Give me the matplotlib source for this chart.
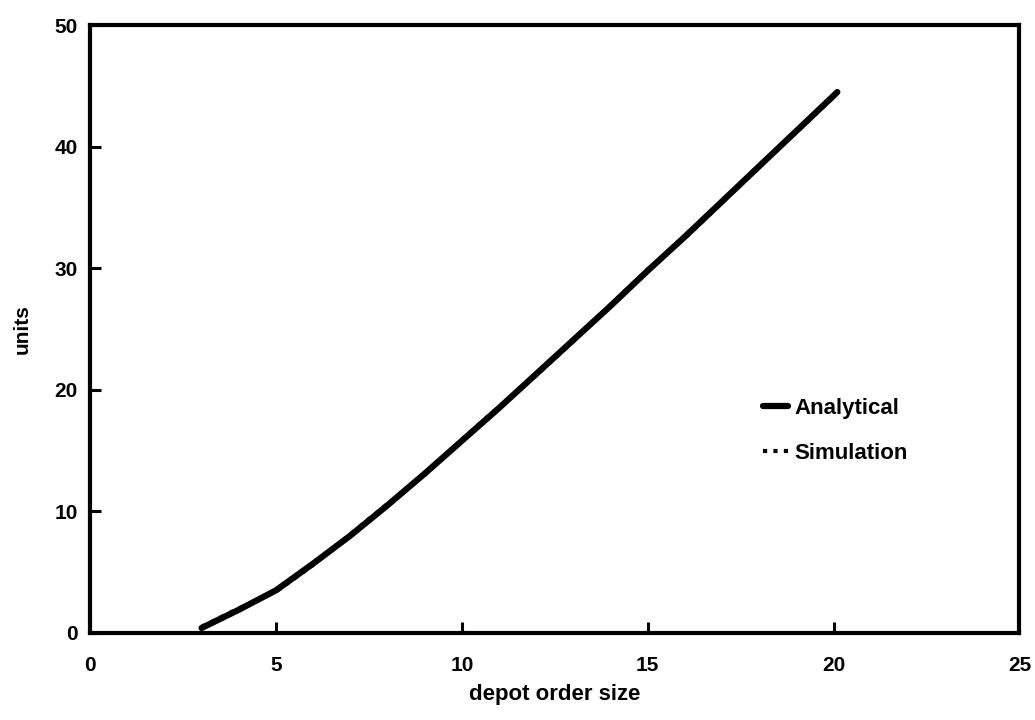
import matplotlib.pyplot as plt

# depot order size vs units
order_size = [3, 4, 5, 6, 7, 8, 9, 10, 11, 12, 13, 14, 15, 16, 17, 18, 19, 20, 20.1]
analytical = [0.4, 1.9, 3.5, 5.7, 8.0, 10.5, 13.1, 15.8, 18.5, 21.3, 24.1, 26.9,
              29.8, 32.6, 35.5, 38.4, 41.3, 44.2, 44.5]
simulation = [0.5, 2.0, 3.4, 5.6, 8.1, 10.6, 13.0, 15.9, 18.6, 21.2, 24.0, 27.0,
              29.9, 32.5, 35.4, 38.5, 41.2, 44.1, 44.4]

xticks = [0, 5, 10, 15, 20, 25]
yticks = [0, 10, 20, 30, 40, 50]

plt.rcParams['font.family'] = ['Liberation Sans', 'DejaVu Sans']
plt.rcParams['font.weight'] = 'bold'

fig, ax = plt.subplots(figsize=(10.35, 7.2), dpi=100)
plt.subplots_adjust(left=0.087, right=0.985, top=0.965, bottom=0.121)

ax.plot(order_size, simulation, color='black', lw=3, ls=(0, (1, 1.5)),
        label='Simulation', zorder=2)
ax.plot(order_size, analytical, color='black', lw=4.5, solid_capstyle='round',
        label='Analytical', zorder=3)

ax.set_xlim(0, 25)
ax.set_ylim(0, 50)
ax.set_xticks(xticks)
ax.set_yticks(yticks)
ax.tick_params(direction='in', length=8, width=2.2, labelsize=15, top=False, right=False)
ax.tick_params(axis='x', pad=17)
ax.tick_params(axis='y', pad=9)
for s in ax.spines.values():
    s.set_linewidth(3)

ax.set_xlabel('depot order size', fontsize=16, fontweight='bold', labelpad=6)
ax.set_ylabel('units', fontsize=15, fontweight='bold', labelpad=16)

h, l = ax.get_legend_handles_labels()
ax.legend(h[::-1], l[::-1], loc='upper left', bbox_to_anchor=(0.703, 0.42),
          frameon=False, handlelength=1.1, handletextpad=0.3, labelspacing=1.1,
          prop={'size': 16, 'weight': 'bold'})

fig.savefig('out.png', dpi=100)
